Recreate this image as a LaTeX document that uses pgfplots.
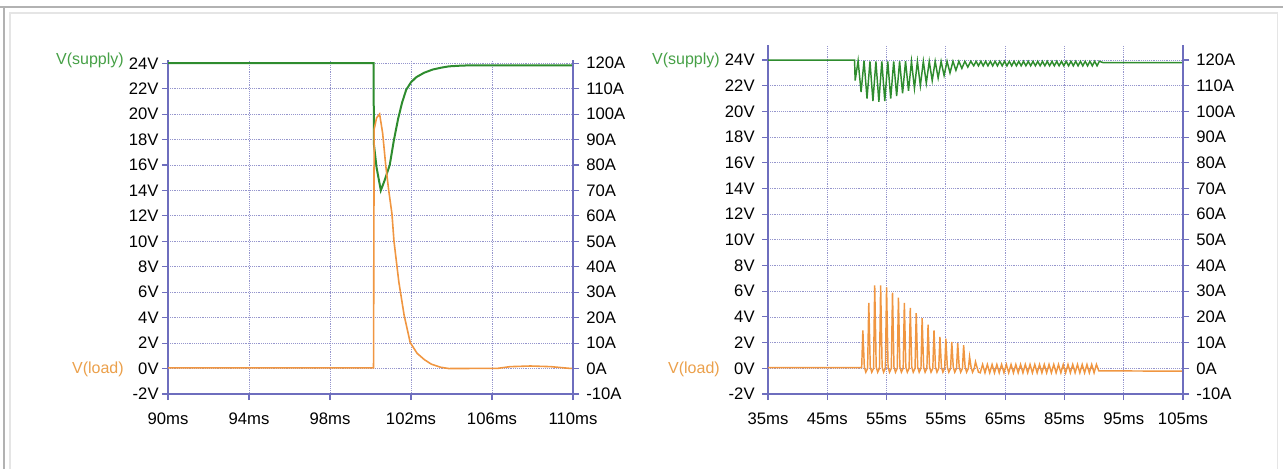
\documentclass[border=0pt]{standalone}
\usepackage{pgfplots}
\pgfplotsset{compat=1.18}
\usepackage{fontspec}
\setmainfont{Liberation Sans}

\definecolor{vsup}{RGB}{46,140,46}
\definecolor{vsuplbl}{RGB}{70,160,70}
\definecolor{vload}{RGB}{240,150,65}
\definecolor{vloadlbl}{RGB}{235,160,75}
\definecolor{axblue}{RGB}{110,110,190}
\definecolor{gridblue}{RGB}{150,150,205}

\pgfplotsset{
  volts/.style={
    scale only axis, anchor=south west,
    height=250.5pt,
    ymin=-2,
    ytick={-2,0,...,24},
    yticklabel={\pgfmathprintnumber{\tick}V},
    axis x line*=bottom, axis y line*=left,
    axis line style={axblue, line width=0.8pt, -},
    tick style={axblue, line width=0.8pt},
    major tick length=4.5pt, tick align=outside,
    grid=major,
    major grid style={gridblue, densely dotted, line width=0.6pt},
    ticklabel style={font=\fontsize{12.5}{14}\selectfont, black},
    yticklabel shift=2pt, xticklabel shift=6pt,
    /pgf/number format/assume math mode=true,
    clip=false,
  },
  amps/.style={
    scale only axis, anchor=south west,
    height=250.5pt,
    ymin=-10,
    ytick={-10,0,...,120},
    yticklabel={\pgfmathprintnumber{\tick}A},
    axis y line*=right, axis x line*=bottom,
    x axis line style={draw=none}, xtick=\empty,
    axis line style={axblue, line width=0.8pt, -},
    tick style={axblue, line width=0.8pt},
    major tick length=4.5pt, tick align=outside,
    ticklabel style={font=\fontsize{12.5}{14}\selectfont, black},
    yticklabel shift=2pt,
    /pgf/number format/assume math mode=true,
  },
}

\begin{document}
\begin{tikzpicture}
\path[use as bounding box] (0pt,0pt) rectangle (962.25pt,351.75pt);
% frame of the screenshot
\draw[black!30, line width=1pt] (0pt,346.5pt) -- (962.25pt,346.5pt);
\draw[black!30, line width=1pt] (3pt,0pt) -- (3pt,346.5pt);
\draw[black!10, line width=0.8pt] (7.5pt,0pt) -- (7.5pt,342pt) -- (958pt,342pt) -- (958pt,0pt);

% ---------- left panel ----------
\begin{axis}[volts, at={(126pt,56.25pt)}, width=303.75pt,
    xmin=90, xmax=110, ymax=24.25, yticklabel shift=-1pt,
    xtick={90,94,...,110},
    xticklabels={90ms,94ms,98ms,102ms,106ms,110ms}]
\addplot[vsup, line width=1.5pt] coordinates {
 (90,24) (100.15,24) (100.17,17.6) (100.3,15.8) (100.51,14.0) (100.7,14.8)
 (100.95,16.0) (101.15,17.9) (101.36,19.6) (101.56,20.9) (101.76,21.9)
 (102.0,22.5) (102.26,22.9) (102.65,23.25) (103.07,23.5) (103.5,23.65)
 (103.87,23.75) (104.4,23.8) (104.87,23.83) (110,23.83)
};
\addplot[vload, line width=1.2pt] coordinates {
 (90,0.05) (100.15,0.05) (100.18,18.8) (100.3,19.7) (100.45,20.0) (100.6,18.5)
 (100.75,16.0) (100.9,14.0) (101.06,12.15) (101.16,10.0) (101.4,6.8)
 (101.66,4.2) (101.96,2.05) (102.3,1.2) (102.66,0.7) (103.0,0.35)
 (103.47,0.1) (103.87,0.0) (106.3,0.02) (106.9,0.15) (107.9,0.2)
 (108.9,0.15) (109.8,0.02) (110,0.02)
};
\end{axis}
\begin{axis}[amps, at={(126pt,56.25pt)}, width=303.75pt,
    xmin=90, xmax=110, ymax=121.25]
\end{axis}
\node[anchor=east, text=vsuplbl, font=\fontsize{12}{14}\selectfont, inner sep=0pt] at (93pt,306.75pt) {V(supply)};
\node[anchor=east, text=vloadlbl, font=\fontsize{12}{14}\selectfont, inner sep=0pt] at (93pt,75pt) {V(load)};

% ---------- right panel ----------
\begin{axis}[volts, at={(576pt,56.25pt)}, width=311.25pt, height=261.75pt,
    xmin=35, xmax=105, ymax=25.17,
    xtick={35,45,...,105},
    xticklabels={35ms,45ms,55ms,55ms,65ms,85ms,95ms,105ms}]
\addplot[vsup, line width=1.1pt] coordinates {
 (35,24) (49.6,24) (49.7,22.4) (50.2,23.95) (50.7,21.5) (51.2,23.95)
 (51.7,21.0) (52.2,23.9) (52.7,20.8) (53.2,23.9) (53.7,20.75) (54.2,23.9)
 (54.7,20.8) (55.2,23.9) (55.7,21.0) (56.2,23.9) (56.7,21.2) (57.2,23.9)
 (57.7,21.4) (58.2,23.9) (58.7,21.6) (59.2,23.9) (59.7,21.8) (60.2,23.9)
 (60.7,22.0) (61.2,23.9) (61.7,22.2) (62.2,23.9) (62.7,22.4) (63.2,23.9)
 (63.7,22.6) (64.2,23.9) (64.7,22.8) (65.2,23.9) (65.7,23.0) (66.2,23.9)
 (66.7,23.2) (67.2,23.9) (67.7,23.35) (68.2,23.9) (68.7,23.45) (69.2,23.9)
 (69.7,23.55) (70.1,23.9)
 (70.5,23.55) (70.9,23.9) (71.3,23.55) (71.7,23.9) (72.1,23.55) (72.5,23.9)
 (72.9,23.55) (73.3,23.9) (73.7,23.55) (74.1,23.9) (74.5,23.55) (74.9,23.9)
 (75.3,23.55) (75.7,23.9) (76.1,23.55) (76.5,23.9) (76.9,23.55) (77.3,23.9)
 (77.7,23.55) (78.1,23.9) (78.5,23.55) (78.9,23.9) (79.3,23.55) (79.7,23.9)
 (80.1,23.55) (80.5,23.9) (80.9,23.55) (81.3,23.9) (81.7,23.55) (82.1,23.9)
 (82.5,23.55) (82.9,23.9) (83.3,23.55) (83.7,23.9) (84.1,23.55) (84.5,23.9)
 (84.9,23.55) (85.3,23.9) (85.7,23.55) (86.1,23.9) (86.5,23.55) (86.9,23.9)
 (87.3,23.55) (87.7,23.9) (88.1,23.55) (88.5,23.9) (88.9,23.55) (89.3,23.9)
 (89.7,23.55) (90.1,23.9) (90.5,23.55) (90.9,23.9)
 (91.5,23.8) (105,23.8)
};
\addplot[vload, line width=1.1pt] coordinates {
 (35,0.05) (50.7,0.05)
 (50.8,0.05) (51.0,2.95) (51.25,0.1) (51.5,-0.3)
 (51.8,0) (52.0,5.1) (52.25,0.1) (52.5,-0.3)
 (52.8,0) (53.0,6.45) (53.25,0.1) (53.5,-0.3)
 (53.8,0) (54.0,6.45) (54.25,0.1) (54.5,-0.3)
 (54.8,0) (55.0,6.3) (55.25,0.1) (55.5,-0.3)
 (55.8,0) (56.0,5.9) (56.25,0.1) (56.5,-0.3)
 (56.8,0) (57.0,5.5) (57.25,0.1) (57.5,-0.3)
 (57.8,0) (58.0,5.1) (58.25,0.1) (58.5,-0.3)
 (58.8,0) (59.0,4.7) (59.25,0.1) (59.5,-0.3)
 (59.8,0) (60.0,4.3) (60.25,0.1) (60.5,-0.3)
 (60.8,0) (61.0,3.9) (61.25,0.1) (61.5,-0.3)
 (61.8,0) (62.0,3.4) (62.25,0.1) (62.5,-0.3)
 (62.8,0) (63.0,2.95) (63.25,0.1) (63.5,-0.3)
 (63.8,0) (64.0,2.45) (64.25,0.1) (64.5,-0.3)
 (64.8,0) (65.0,2.3) (65.25,0.1) (65.5,-0.3)
 (65.8,0) (66.0,2.05) (66.25,0.1) (66.5,-0.3)
 (66.8,0) (67.0,1.95) (67.25,0.1) (67.5,-0.3)
 (67.8,0) (68.0,1.8) (68.25,0.1) (68.5,-0.3)
 (68.8,0) (69.0,0.9) (69.25,0.1) (69.5,-0.3)
 (69.8,0) (70.0,0.5) (70.25,0.1) (70.5,-0.3)
 (70.8,-0.35) (71.2,0.3) (71.6,-0.35) (72.0,0.3) (72.4,-0.35) (72.8,0.3)
 (73.2,-0.35) (73.6,0.3) (74.0,-0.35) (74.4,0.3) (74.8,-0.35) (75.2,0.3)
 (75.6,-0.35) (76.0,0.3) (76.4,-0.35) (76.8,0.3) (77.2,-0.35) (77.6,0.3)
 (78.0,-0.35) (78.4,0.3) (78.8,-0.35) (79.2,0.3) (79.6,-0.35) (80.0,0.3)
 (80.4,-0.35) (80.8,0.3) (81.2,-0.35) (81.6,0.3) (82.0,-0.35) (82.4,0.3)
 (82.8,-0.35) (83.2,0.3) (83.6,-0.35) (84.0,0.3) (84.4,-0.35) (84.8,0.3)
 (85.2,-0.35) (85.6,0.3) (86.0,-0.35) (86.4,0.3) (86.8,-0.35) (87.2,0.3)
 (87.6,-0.35) (88.0,0.3) (88.4,-0.35) (88.8,0.3) (89.2,-0.35) (89.6,0.3)
 (90.0,-0.35) (90.4,0.3) (90.8,-0.2) (105,-0.22)
};
\end{axis}
\begin{axis}[amps, at={(576pt,56.25pt)}, width=311.25pt, height=261.75pt,
    xmin=35, xmax=105, ymax=125.85]
\end{axis}
\node[anchor=east, text=vsuplbl, font=\fontsize{12}{14}\selectfont, inner sep=0pt] at (540pt,306.75pt) {V(supply)};
\node[anchor=east, text=vloadlbl, font=\fontsize{12}{14}\selectfont, inner sep=0pt] at (540pt,75pt) {V(load)};
\end{tikzpicture}
\end{document}
